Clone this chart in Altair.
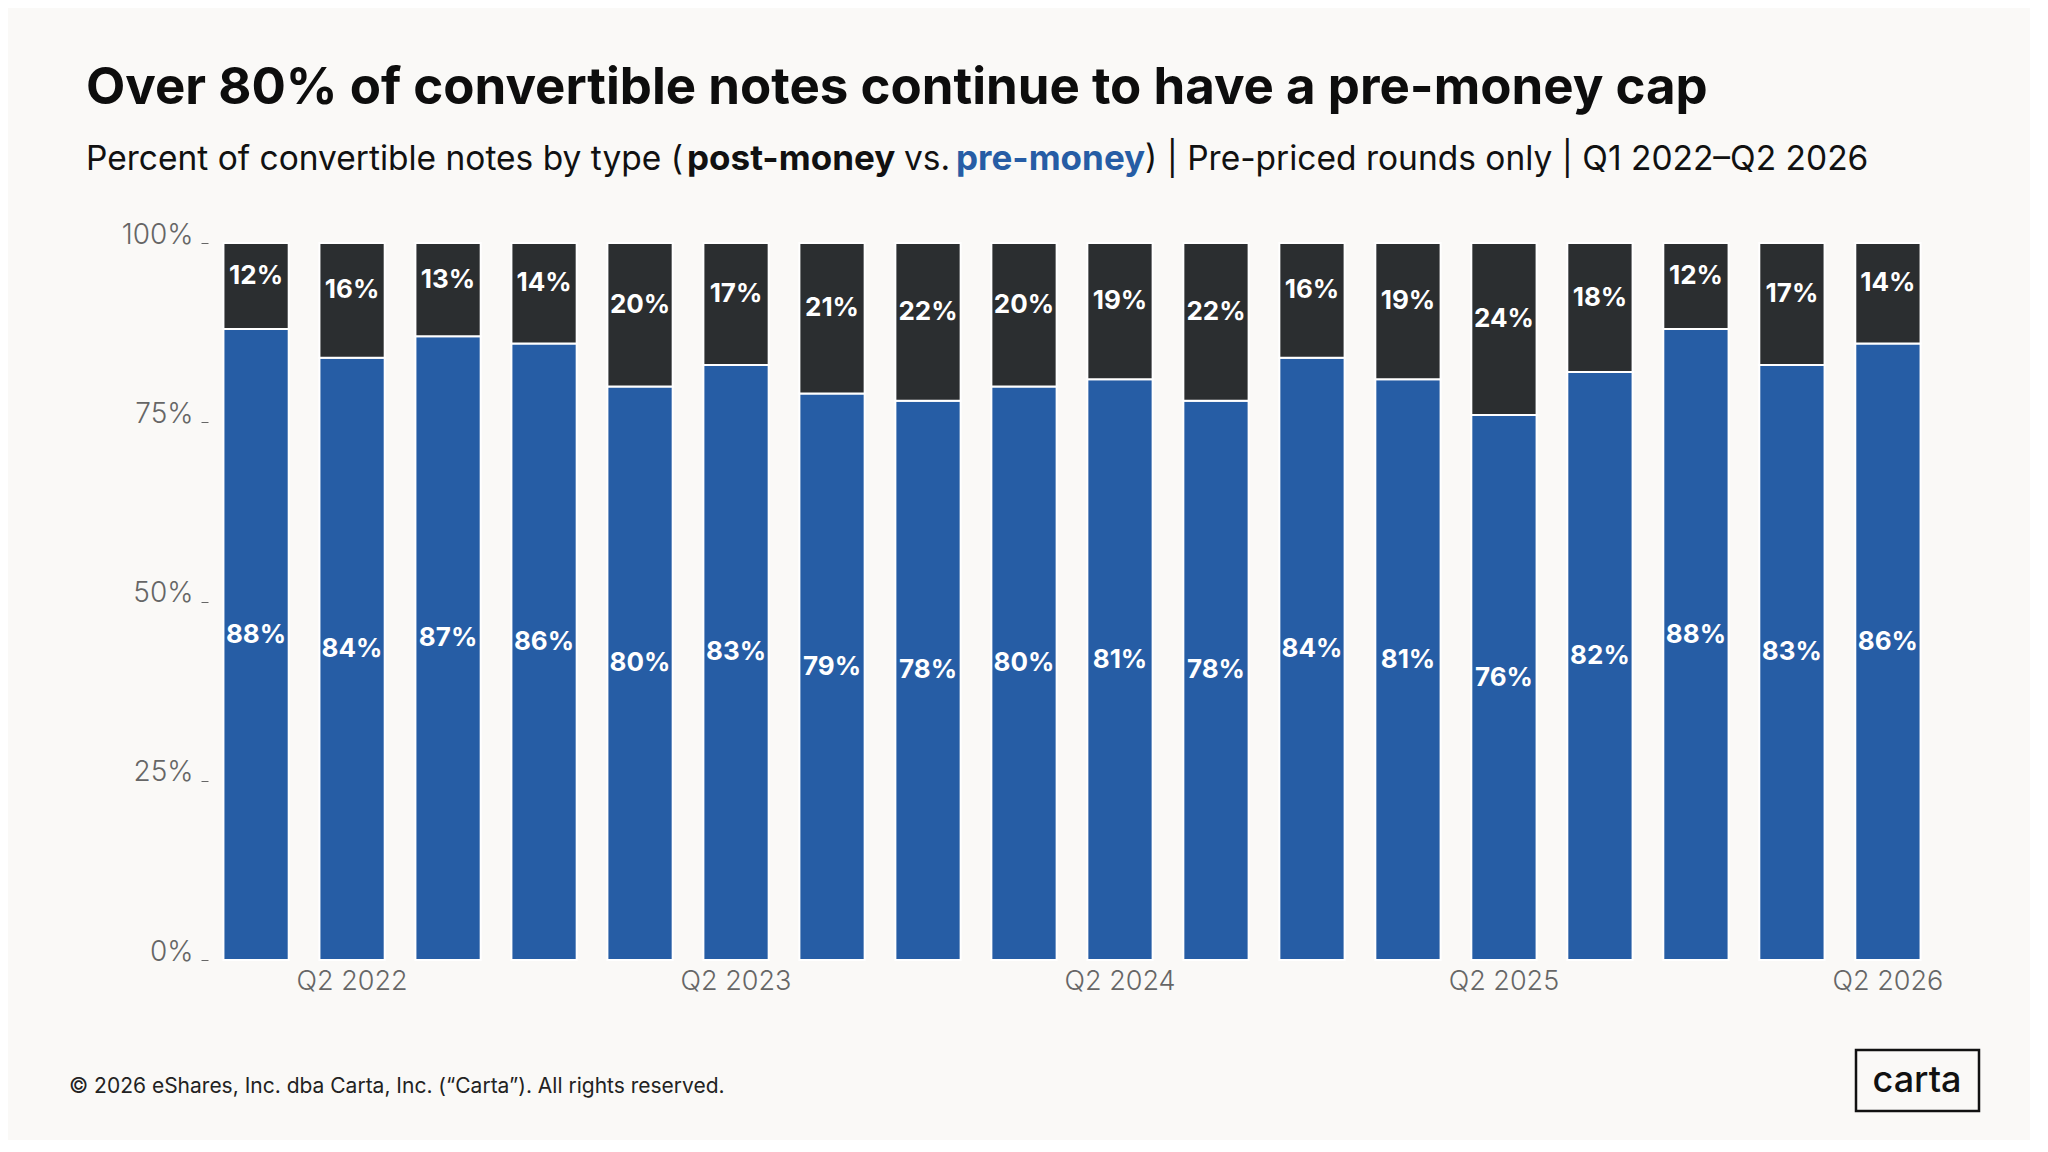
import altair as alt
import pandas as pd

quarters = ["Q1 2022", "Q2 2022", "Q3 2022", "Q4 2022",
            "Q1 2023", "Q2 2023", "Q3 2023", "Q4 2023",
            "Q1 2024", "Q2 2024", "Q3 2024", "Q4 2024",
            "Q1 2025", "Q2 2025", "Q3 2025", "Q4 2025",
            "Q1 2026", "Q2 2026"]
pre_money = [88, 84, 87, 86, 80, 83, 79, 78, 80, 81, 78, 84, 81, 76, 82, 88, 83, 86]
post_money = [12, 16, 13, 14, 20, 17, 21, 22, 20, 19, 22, 16, 19, 24, 18, 12, 17, 14]
x_labels = ["Q2 2022", "Q2 2023", "Q2 2024", "Q2 2025", "Q2 2026"]
y_ticks = [0, 25, 50, 75, 100]

BG = "#faf9f7"
BLUE = "#265da5"
DARK = "#2b2e30"
FONT = "Inter"

rows = []
for q, a, b in zip(quarters, pre_money, post_money):
    rows.append({"quarter": q, "type": "pre-money", "value": a, "ord": 0, "mid": a / 2})
    rows.append({"quarter": q, "type": "post-money", "value": b, "ord": 1, "mid": a + b / 2})
df = pd.DataFrame(rows)
one = pd.DataFrame({"k": [0]})

x_enc = alt.X("quarter:N", sort=quarters, title=None,
              scale=alt.Scale(paddingInner=0.32, paddingOuter=0.14),
              axis=alt.Axis(values=x_labels, labelAngle=0, ticks=False, domain=False,
                            labelFont=FONT, labelFontSize=27, labelFontWeight=300,
                            labelColor="#666666", labelPadding=8))

bars = alt.Chart(df).mark_bar(stroke="white", strokeWidth=2).encode(
    x=x_enc,
    y=alt.Y("value:Q", stack="zero", title=None,
            scale=alt.Scale(domain=[0, 100], nice=False),
            axis=alt.Axis(values=y_ticks, labelExpr="datum.value + '%'", grid=False,
                          domain=False, tickSize=7, tickColor="#666666", tickWidth=1,
                          labelFont=FONT, labelFontSize=28, labelFontWeight=300,
                          labelColor="#666666", labelPadding=8,
                          labelBaseline="alphabetic", offset=2)),
    color=alt.Color("type:N", scale=alt.Scale(domain=["pre-money", "post-money"],
                                              range=[BLUE, DARK]), legend=None),
    order=alt.Order("ord:Q"),
)

labels = alt.Chart(df).transform_calculate(
    lab="datum.value + '%'"
).mark_text(color="white", font=FONT, fontWeight=700, fontSize=26, dy=-10).encode(
    x=alt.X("quarter:N", sort=quarters),
    y=alt.Y("mid:Q"),
    text="lab:N",
)

def txt(s, x, y, size, weight=400, color="#111111", align="left", baseline="alphabetic"):
    return alt.Chart(one).mark_text(text=s, font=FONT, fontSize=size, fontWeight=weight,
                                    color=color, align=align, baseline=baseline).encode(
        x=alt.value(x), y=alt.value(y))

title = txt("Over 80% of convertible notes continue to have a pre-money cap", -124, -139, 51, 700, "#0d0d0d")
sub_y = -73
sub = [
    txt("Percent of convertible notes by type (", -124, sub_y, 33.5, 400),
    txt("post-money", 477, sub_y, 35, 700),
    txt("vs.", 694, sub_y, 33.5, 400),
    txt("pre-money", 746, sub_y, 35, 700, BLUE),
    txt(") | Pre-priced rounds only | Q1 2022\u2013Q2 2026", 935, sub_y, 33.5, 400),
]
footer = txt("\u00a9 2026 eShares, Inc. dba Carta, Inc. (\u201cCarta\u201d). All rights reserved.",
             -141, 850, 21, 400, "#222222")
logo_box = alt.Chart(one).mark_rect(fillOpacity=0, stroke="#111111", strokeWidth=2.5).encode(
    x=alt.value(1646), x2=alt.value(1769), y=alt.value(807), y2=alt.value(868))
logo = txt("carta", 1707, 838, 36, 500, "#111111", align="center", baseline="middle")

chart = alt.layer(bars, labels, title, *sub, footer, logo_box, logo).properties(
    width=1724, height=717,
    padding={"left": 202, "top": 235, "right": 96, "bottom": 180},
    autosize=alt.AutoSizeParams(type="none"),
    background=BG,
).configure_view(stroke=None)

chart.save("out.html", embed_options={"renderer": "svg", "actions": False})
